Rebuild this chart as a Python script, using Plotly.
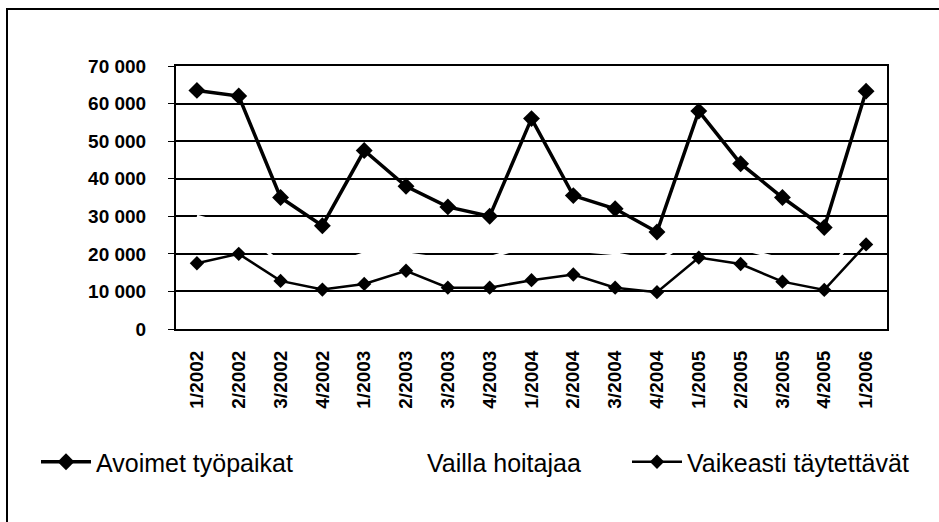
import plotly.graph_objects as go

categories = ["1/2002", "2/2002", "3/2002", "4/2002",
              "1/2003", "2/2003", "3/2003", "4/2003",
              "1/2004", "2/2004", "3/2004", "4/2004",
              "1/2005", "2/2005", "3/2005", "4/2005",
              "1/2006"]

avoimet = [63500, 62000, 35000, 27500,
           47500, 38000, 32500, 30000,
           56000, 35500, 32000, 25800,
           58000, 44000, 35000, 27000,
           63300]

vailla = [30000, 27000, 17500, 16500,
          20000, 20000, 18500, 19000,
          22500, 21000, 20000, 18000,
          25000, 21500, 18500, 14000,
          28500]

vaikeasti = [17500, 20000, 12800, 10500,
             12000, 15500, 11000, 11000,
             13000, 14500, 11000, 9800,
             19000, 17300, 12600, 10400,
             22500]

y_ticks = [0, 10000, 20000, 30000, 40000, 50000, 60000, 70000]
y_tick_text = ["0", "10 000", "20 000", "30 000", "40 000", "50 000", "60 000", "70 000"]

W, H = 939, 522
L, R, T, B = 176, 52, 66, 193
PW, PH = W - L - R, H - T - B

def px_x(p):
    return (p - L) / PW

def px_y(p):
    return (H - B - p) / PH

fig = go.Figure()

fig.add_trace(go.Scatter(
    x=categories, y=vailla, name="Vailla hoitajaa", mode="lines",
    line=dict(color="white", width=3), legend="legend2"))

fig.add_trace(go.Scatter(
    x=categories, y=avoimet, name="Avoimet työpaikat", mode="lines+markers",
    line=dict(color="black", width=3.5),
    marker=dict(symbol="diamond", size=13, color="black"), legend="legend"))

fig.add_trace(go.Scatter(
    x=categories, y=vaikeasti, name="Vaikeasti täytettävät", mode="lines+markers",
    line=dict(color="black", width=2.5),
    marker=dict(symbol="diamond", size=11, color="black"), legend="legend3"))

legend_font = dict(family="Liberation Sans, Arial, sans-serif", size=25, color="black")
leg_common = dict(font=legend_font, bgcolor="rgba(0,0,0,0)", yanchor="middle",
                  xanchor="left", itemwidth=50, orientation="h")

fig.update_layout(
    width=W, height=H,
    margin=dict(l=L, r=R, t=T, b=B, autoexpand=False),
    paper_bgcolor="white", plot_bgcolor="white",
    showlegend=True,
    legend=dict(x=px_x(36), y=px_y(462), **leg_common),
    legend2=dict(x=px_x(367), y=px_y(462), **leg_common),
    legend3=dict(x=px_x(627), y=px_y(462), **leg_common),
    xaxis=dict(
        type="category", range=[-0.5, len(categories) - 0.5],
        tickangle=-90, showgrid=False, zeroline=False,
        showline=True, linecolor="black", linewidth=2, mirror=True,
        ticks="", ticklabelstandoff=12,
        tickfont=dict(family="Liberation Sans, Arial, sans-serif", size=19, color="black", weight="bold"),
    ),
    yaxis=dict(
        range=[0, 70000], tickvals=y_ticks, ticktext=y_tick_text,
        showgrid=True, gridcolor="black", gridwidth=1.5, zeroline=False,
        showline=True, linecolor="black", linewidth=2, mirror=True,
        ticks="outside", ticklen=6, tickcolor="black", tickwidth=1,
        ticklabelstandoff=18,
        tickfont=dict(family="Liberation Sans, Arial, sans-serif",
                      size=19, color="black", weight="bold"),
    ),
    shapes=[dict(type="rect", xref="paper", yref="paper",
                 x0=px_x(7), x1=px_x(950), y0=px_y(9), y1=px_y(540),
                 line=dict(color="black", width=2), fillcolor="rgba(0,0,0,0)", layer="below")],
)

fig.write_html("out.html", post_script="document.body.style.margin='0';",
               config={"displayModeBar": False})
